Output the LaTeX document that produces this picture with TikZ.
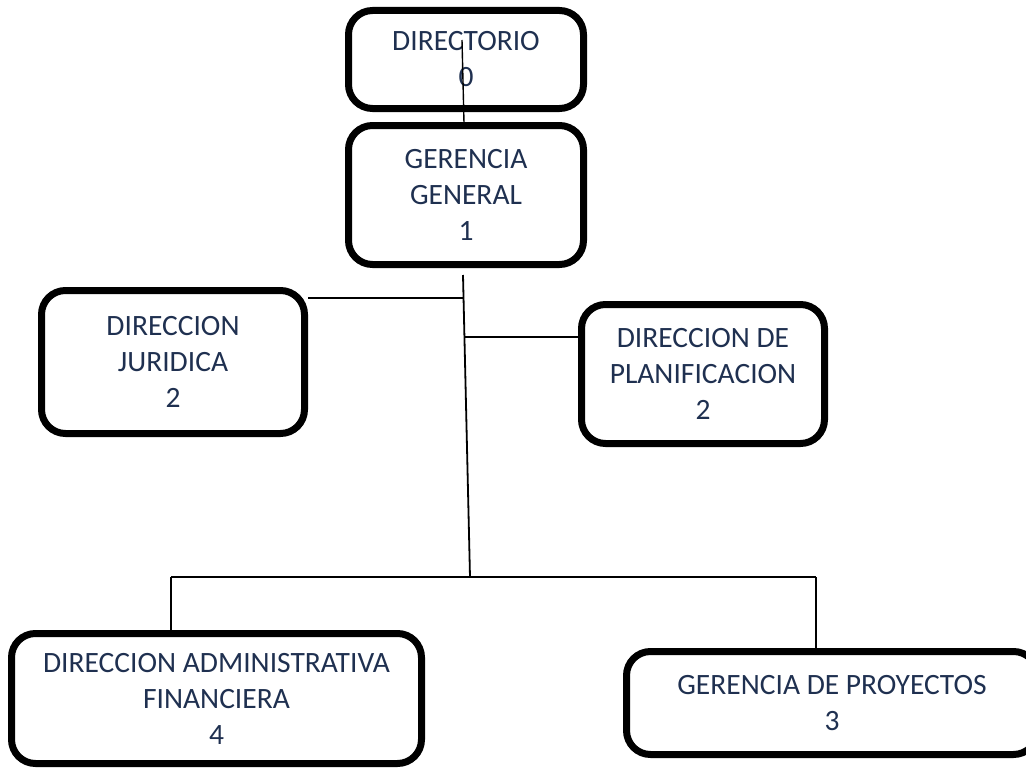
\documentclass[tikz,border=0pt]{standalone}
\usepackage{fontspec}
\setmainfont{Carlito}
\usetikzlibrary{positioning,calc}
\definecolor{navy}{HTML}{1F3050}

\begin{document}
\begin{tikzpicture}[x=1pt,y=-1pt,
		box/.style={draw=black, line width=7pt, rounded corners=24pt, align=center, inner sep=0pt,
			text=navy, font=\fontsize{29.5}{36}\selectfont},
		link/.style={black, line width=1.8pt}]
			\useasboundingbox (0,0) rectangle (1026,768);
			
			% top level
			\node[box, minimum width=235, minimum height=98] (dir) at (466,59.5) {DIRECTORIO\\0};
			\node[box, minimum width=235, minimum height=139] (gg) at (466,195) {GERENCIA\\GENERAL\\1};
			
			% staff
			\node[box, minimum width=263, minimum height=143] (jur) at (173,362) {DIRECCION\\JURIDICA\\2};
			\node[box, minimum width=243, minimum height=139] (plan) at (703,374) {DIRECCION DE\\PLANIFICACION\\2};
			
			% lower level
			\node[box, minimum width=410, minimum height=130] (adm) at (216.5,698.5) {DIRECCION ADMINISTRATIVA\\FINANCIERA\\4};
			\node[box, minimum width=411, minimum height=103] (proy) at (832,703) {GERENCIA DE PROYECTOS\\3};
			
			% connectors
			\coordinate (dirtop) at (462,40);
			\coordinate (ggtop) at (464,123);
			\coordinate (trunktop) at (463,275);
			\coordinate (trunkbot) at (470,577);
			\coordinate (jj) at (463,298);
			\coordinate (pp) at (464.5,337);
			\coordinate (bl) at (171,577);
			\coordinate (br) at (816,577);
			
			\draw[link, line width=1.4pt] (dirtop) -- (ggtop);
			\draw[link] (trunktop) -- (trunkbot);
			\draw[link] (jj) -- (jj -| jur.east);
			\draw[link] (pp) -- (pp -| plan.west);
			\draw[link] (bl) -- (br);
			\draw[link] (bl) -- (bl |- adm.north);
			\draw[link] (br) -- (br |- proy.north);
		\end{tikzpicture}
\end{document}
